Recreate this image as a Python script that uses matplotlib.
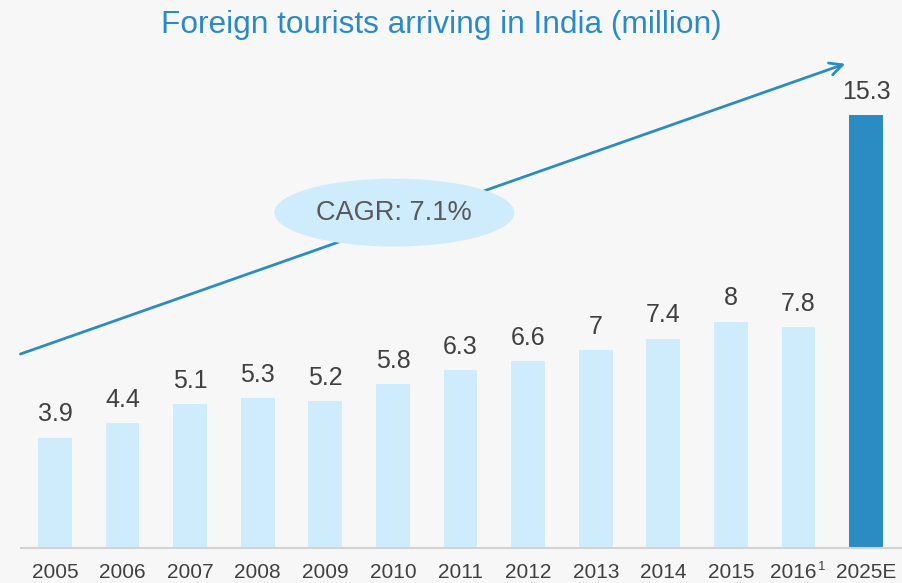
import matplotlib.pyplot as plt
from matplotlib.patches import Ellipse
from matplotlib.transforms import ScaledTranslation

plt.rcParams['font.family'] = ['Liberation Sans', 'DejaVu Sans']

years = ["2005", "2006", "2007", "2008", "2009", "2010", "2011",
         "2012", "2013", "2014", "2015", "2016", "2025E"]
arrivals = [3.9, 4.4, 5.1, 5.3, 5.2, 5.8, 6.3, 6.6, 7, 7.4, 8, 7.8, 15.3]
value_labels = ["3.9", "4.4", "5.1", "5.3", "5.2", "5.8", "6.3",
                "6.6", "7", "7.4", "8", "7.8", "15.3"]
cagr_text = "CAGR: 7.1%"

bg = "#F7F7F7"
light_blue = "#CFECFC"
dark_blue = "#2B8CC4"
text_grey = "#404040"

fig = plt.figure(figsize=(9.02, 5.83), dpi=100, facecolor=bg)
# axes spans from the left edge of the baseline to the right edge of the figure
ax = fig.add_axes([21 / 902, 35 / 583, 1 - 21 / 902, 548 / 583])
ax.set_facecolor(bg)

x = list(range(len(years)))
colors = [light_blue] * (len(years) - 1) + [dark_blue]
bars = ax.bar(x, arrivals, width=0.5, color=colors, zorder=2)

for xi, val, lab in zip(x, arrivals, value_labels):
    ax.annotate(lab, (xi, val), xytext=(0, 8), textcoords="offset points",
                ha="center", va="bottom", fontsize=18, color=text_grey)

ax.set_xlim(-0.503, 12.53)
ax.set_ylim(0, 19.36)
ax.set_xticks(x)
ax.set_xticklabels(years, fontsize=15, color=text_grey)
ax.tick_params(axis="x", length=0, pad=10.5)
ax.set_yticks([])
for side in ["top", "left", "right"]:
    ax.spines[side].set_visible(False)
ax.spines["bottom"].set_color("#D3D3D3")
ax.spines["bottom"].set_linewidth(1.5)

# 2016 label sits a bit left to make room for the footnote marker
lbl = ax.get_xticklabels()[11]
lbl.set_transform(lbl.get_transform() + ScaledTranslation(-4 / 72, 0, fig.dpi_scale_trans))
ax.annotate("1", (11, 0), xycoords=("data", "axes fraction"),
            xytext=(14, -9.5), textcoords="offset points",
            ha="left", va="top", fontsize=9.5, color=text_grey)

# growth arrow with CAGR bubble
ax.annotate("", xy=(11.73, 17.14), xytext=(-0.55, 6.82),
            arrowprops=dict(arrowstyle="->,head_length=0.9,head_width=0.45",
                            color=dark_blue, lw=2.0),
            annotation_clip=False, zorder=3)
bubble = Ellipse((5.02, 11.85), width=3.55, height=2.4,
                 facecolor=light_blue, edgecolor="none", zorder=4)
ax.add_patch(bubble)
ax.text(5.02, 11.85, cagr_text, ha="center", va="center",
        fontsize=19.5, color="#595959", zorder=5)

fig.text(441 / 902, 1 - 25 / 583, "Foreign tourists arriving in India (million)",
         ha="center", va="center", fontsize=22.8, color="#2A8AC8")

fig.savefig("out.png", dpi=100, facecolor=bg)
